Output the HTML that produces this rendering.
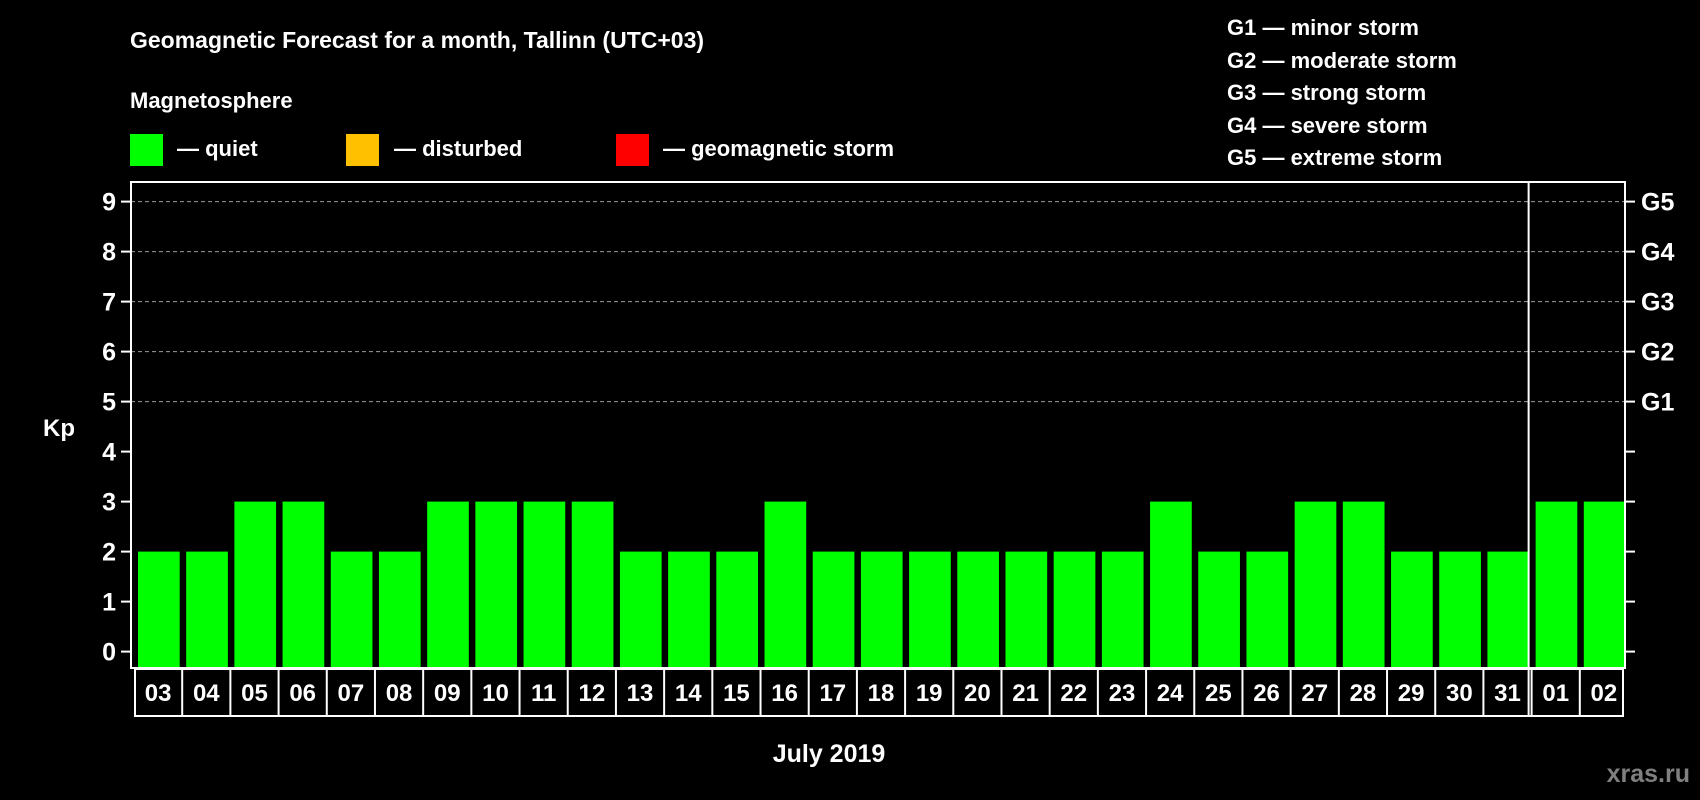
<!DOCTYPE html>
<html><head><meta charset="utf-8"><style>
html,body{margin:0;padding:0;background:#000;}
svg{display:block;font-family:"Liberation Sans",Arial,sans-serif;font-weight:bold;}
</style></head><body>
<svg id="c" width="1700" height="800" viewBox="0 0 1700 800">
<text x="130" y="48" fill="#fff" font-size="23">Geomagnetic Forecast for a month, Tallinn (UTC+03)</text>
<text x="130" y="108" fill="#fff" font-size="22">Magnetosphere</text>
<rect x="130" y="134" width="33" height="32" fill="#00ff00"/>
<text x="177" y="156" fill="#fff" font-size="22">— quiet</text>
<rect x="346" y="134" width="33" height="32" fill="#ffc000"/>
<text x="394" y="156" fill="#fff" font-size="22">— disturbed</text>
<rect x="616" y="134" width="33" height="32" fill="#ff0000"/>
<text x="663" y="156" fill="#fff" font-size="22">— geomagnetic storm</text>
<g fill="#fff" font-size="22">
<text x="1227" y="35">G1 — minor storm</text>
<text x="1227" y="68">G2 — moderate storm</text>
<text x="1227" y="100">G3 — strong storm</text>
<text x="1227" y="133">G4 — severe storm</text>
<text x="1227" y="165">G5 — extreme storm</text>
</g>
<text x="43" y="436" fill="#fff" font-size="24">Kp</text>
<text x="829" y="762" fill="#fff" font-size="25" text-anchor="middle">July 2019</text>
<text x="1690" y="782" fill="#808080" font-size="25" text-anchor="end">xras.ru</text>
<g id="plot"></g>
</svg>
<script>
const days=["03","04","05","06","07","08","09","10","11","12","13","14","15","16","17","18","19","20","21","22","23","24","25","26","27","28","29","30","31","01","02"];
const kp=[2,2,3,3,2,2,3,3,3,3,2,2,2,3,2,2,2,2,2,2,2,3,2,2,3,3,2,2,2,3,3];
const yTicks=[0,1,2,3,4,5,6,7,8,9];
const gLabels=["G1","G2","G3","G4","G5"];
const gLevels=[5,6,7,8,9];
const NS="http://www.w3.org/2000/svg";
const L=131,R=1625,T=182,B=668;
const slot=(R-L)/days.length;
const y=v=>651.6-v*50;
const x=i=>L+i*slot;
const g=document.getElementById('plot');
function mk(t,a){const e=document.createElementNS(NS,t);for(const k in a)e.setAttribute(k,a[k]);g.appendChild(e);return e;}
gLevels.forEach(v=>{const e=mk('line',{x1:L,x2:R,y1:y(v),y2:y(v),stroke:'#9a9a9a','stroke-dasharray':'4,3','stroke-width':1});

});
kp.forEach((v,i)=>{const e=mk('rect',{x:x(i)+7,y:y(v),width:slot-6.5,height:B-y(v),fill:'#00ff00'});

});
const fr=mk('rect',{x:L,y:T,width:R-L,height:B-T,fill:'none',stroke:'#fff','stroke-width':2});


const dv=mk('line',{x1:x(29),x2:x(29),y1:T,y2:716,stroke:'#fff','stroke-width':2});


yTicks.forEach(v=>{
const t1=mk('line',{x1:L-10,x2:L,y1:y(v),y2:y(v),stroke:'#fff','stroke-width':2});


const t2=mk('line',{x1:R,x2:R+10,y1:y(v),y2:y(v),stroke:'#fff','stroke-width':2});


const tx=mk('text',{x:116,y:y(v)+9,fill:'#fff','font-size':25,'text-anchor':'end'});tx.textContent=v;

});
gLevels.forEach((v,i)=>{const tx=mk('text',{x:1641,y:y(v)+9,fill:'#fff','font-size':25});tx.textContent=gLabels[i];

});
const bx=mk('rect',{x:L+4,y:669,width:R-L-6,height:47,fill:'none',stroke:'#fff','stroke-width':2});


days.forEach((d,i)=>{
if(i>0){const l=mk('line',{x1:x(i)+3,x2:x(i)+3,y1:669,y2:716,stroke:'#fff','stroke-width':2});

}
const tx=mk('text',{x:x(i)+slot/2+3,y:701,fill:'#fff','font-size':24,'text-anchor':'middle'});tx.textContent=d;

});
</script>
</body></html>
